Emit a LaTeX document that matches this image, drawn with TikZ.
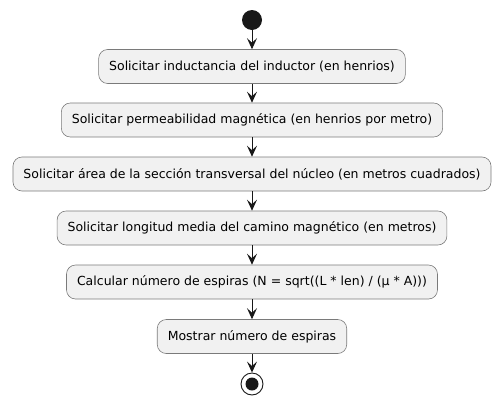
\documentclass[tikz,border=0pt]{standalone}
\usepackage{fontspec}
\setmainfont{DejaVu Sans}
\usetikzlibrary{arrows.meta}
\definecolor{boxfill}{HTML}{F1F1F1}
\definecolor{boxline}{HTML}{7A7A7A}
\definecolor{ink}{HTML}{181818}
\tikzset{
  act/.style={draw=boxline, fill=boxfill, rounded corners=9pt, line width=0.6pt,
    minimum height=34pt, inner xsep=10.5pt, font=\fontsize{12.5}{14}\selectfont, text=black},
  flow/.style={draw=ink, line width=0.9pt, -{Stealth[length=11pt,width=10pt,inset=4.5pt]}}
}
\begin{document}
\begin{tikzpicture}[x=1pt,y=-1pt]
      \useasboundingbox (0,0) rectangle (503,405);
      \fill[ink] (252,20) circle (10) coordinate (start);
      \node[circle, minimum size=20pt, inner sep=0pt] (s) at (252,20) {};
      \draw
        (252,66.5) node[act] (1){Solicitar inductancia del inductor (en henrios)}
        (252,120) node[act] (2){Solicitar permeabilidad magnética (en henrios por metro)}
        (252,174) node[act] (3){Solicitar área de la sección transversal del núcleo (en metros cuadrados)}
        (252,228) node[act] (4){Solicitar longitud media del camino magnético (en metros)}
        (252,282) node[act] (5){Calcular número de espiras (N = sqrt((L * len) / (µ * A)))}
        (252,336.5) node[act] (6){Mostrar número de espiras};
      \node[circle, draw=ink, fill=white, line width=0.9pt, minimum size=22pt, inner sep=0pt] (e) at (252,384) {};
      \fill[ink] (e.center) circle (6.5);
      \begin{scope}[flow]
        \draw (s) to (1);
        \draw (1) to (2);
        \draw (2) to (3);
        \draw (3) to (4);
        \draw (4) to (5);
        \draw (5) to (6);
        \draw (6) to (e);
      \end{scope}
    \end{tikzpicture}
\end{document}
